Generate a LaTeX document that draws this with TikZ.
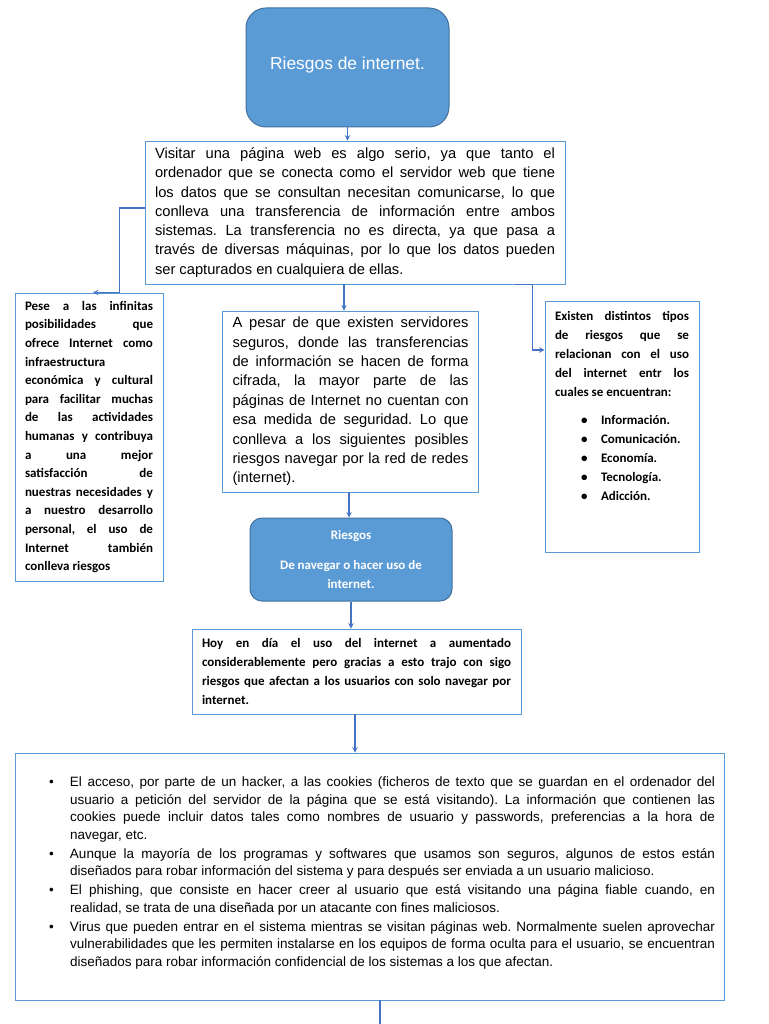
\documentclass[tikz,border=0pt]{standalone}
\usepackage{fontspec}
\setmainfont{Liberation Sans}
\newfontfamily\calibri{Carlito}
\usetikzlibrary{arrows}
\definecolor{riesgoblue}{RGB}{91,155,213}
\definecolor{riesgodark}{RGB}{65,113,156}
\definecolor{riesgoline}{RGB}{68,114,196}
\tikzstyle{arrow} = [line width=1.4pt,->,>=stealth,riesgoline]
\tikzstyle{conector} = [line width=1.4pt,riesgoline]
\tikzstyle{caja} = [draw=riesgoblue, line width=0.9pt, align=justify, inner xsep=10pt, inner ysep=0pt]
\tikzstyle{tema} = [draw=riesgodark, fill=riesgoblue, line width=1pt, text=white, align=center]
\newcommand{\vineta}{\par\noindent\hangindent=21pt\hangafter=1\makebox[21pt][l]{\textbullet}}
\newcommand{\lista}{\par\noindent\makebox[20pt][l]{\textbullet}}
\newcommand{\relleno}[1]{\par\vspace{#1}\hrule height0pt}
\frenchspacing
\hyphenpenalty=10000
\exhyphenpenalty=10000
\tolerance=9999
\hbadness=10000
\begin{document}
\begin{tikzpicture}[x=1pt, y=-1pt]
\useasboundingbox (0,0) rectangle (768,1024);

% Titulo
\node[tema, rounded corners=20pt, minimum width=203pt, minimum height=119pt, text depth=9.5pt, font=\fontsize{17.4}{20}\selectfont] (titulo) at (347.5,67.5) {Riesgos de internet.};

% Cajas de texto
\node[caja, text width=400pt, minimum height=143pt, font=\fontsize{14.7}{19.3}\selectfont] (visitar) at (355,212.5) {Visitar una página web es algo serio, ya que tanto el\linebreak ordenador que se conecta como el servidor web que tiene\linebreak los datos que se consultan necesitan comunicarse, lo que\linebreak conlleva una transferencia de información entre ambos\linebreak sistemas. La transferencia no es directa, ya que pasa a\linebreak través de diversas máquinas, por lo que los datos pueden\linebreak ser capturados en cualquiera de ellas.};

\node[caja, text width=128pt, minimum height=288pt, font=\calibri\bfseries\fontsize{13}{18.6}\selectfont] (pese) at (89,437) {Pese a las infinitas\linebreak posibilidades que\linebreak ofrece Internet como\linebreak infraestructura\linebreak económica y cultural\linebreak para facilitar muchas\linebreak de las actividades\linebreak humanas y contribuya\linebreak a una mejor\linebreak satisfacción de\linebreak nuestras necesidades y\linebreak a nuestro desarrollo\linebreak personal, el uso de\linebreak Internet también\linebreak conlleva riesgos};

\node[caja, text width=236pt, minimum height=181pt, font=\fontsize{14.7}{19.4}\selectfont] (pesar) at (350.5,401.5) {A pesar de que existen servidores\linebreak seguros, donde las transferencias\linebreak de información se hacen de forma\linebreak cifrada, la mayor parte de las\linebreak páginas de Internet no cuentan con\linebreak esa medida de seguridad. Lo que\linebreak conlleva a los siguientes posibles\linebreak riesgos navegar por la red de redes\linebreak (internet).};

\node[caja, text width=134pt, minimum height=251pt, font=\calibri\bfseries\fontsize{13}{19}\selectfont] (tipos) at (622,426.5) {Existen distintos tipos\linebreak de riesgos que se\linebreak relacionan con el uso\linebreak del internet entr los\linebreak cuales se encuentran:\par\vspace{9pt}\leftskip=26pt
\lista Información.\lista Comunicación.\lista Economía.\lista Tecnología.\lista Adicción.\relleno{42pt}};

\node[tema, rounded corners=12pt, minimum width=202pt, minimum height=83pt, font=\calibri\bfseries\fontsize{13}{19}\selectfont] (riesgos) at (351,559.5) {Riesgos\\[11pt]De navegar o hacer uso de\\internet.};

\node[caja, text width=309pt, minimum height=85pt, font=\calibri\bfseries\fontsize{13}{19}\selectfont] (hoy) at (356.5,671.5) {Hoy en día el uso del internet a aumentado\linebreak considerablemente pero gracias a esto trajo con sigo\linebreak riesgos que afectan a los usuarios con solo navegar por\linebreak internet.};

\node[caja, inner xsep=9pt, text width=691pt, minimum height=247pt, font=\fontsize{13.5}{17.5}\selectfont] (lista) at (369.5,876.5) {\leftskip=25pt\parskip=1.5pt
\vineta El acceso, por parte de un hacker, a las cookies (ficheros de texto que se guardan en el ordenador del\linebreak usuario a petición del servidor de la página que se está visitando). La información que contienen las\linebreak cookies puede incluir datos tales como nombres de usuario y passwords, preferencias a la hora de\linebreak navegar, etc.
\vineta Aunque la mayoría de los programas y softwares que usamos son seguros, algunos de estos están\linebreak diseñados para robar información del sistema y para después ser enviada a un usuario malicioso.
\vineta El phishing, que consiste en hacer creer al usuario que está visitando una página fiable cuando, en\linebreak realidad, se trata de una diseñada por un atacante con fines maliciosos.
\vineta Virus que pueden entrar en el sistema mientras se visitan páginas web. Normalmente suelen aprovechar\linebreak vulnerabilidades que les permiten instalarse en los equipos de forma oculta para el usuario, se encuentran\linebreak diseñados para robar información confidencial de los sistemas a los que afectan.\relleno{16pt}};

\coordinate (fin) at (380,1024);

% Conectores
\draw[arrow] (titulo.south) -- (titulo.south |- visitar.north);
\draw[arrow] ([yshift=4.5pt]visitar.west) -- ++(-25,0) |- ([xshift=4pt]pese.north);
\draw[arrow] ([xshift=-11pt]visitar.south) -- ([xshift=-11pt]visitar.south |- pesar.north);
\draw[arrow] ([xshift=-50pt]visitar.south east) -- ++(17,0) |- ([yshift=76.5pt]tipos.west);
\draw[arrow] ([xshift=-1.5pt]pesar.south) -- ([xshift=-1.5pt]pesar.south |- riesgos.north);
\draw[arrow] (riesgos.south) -- (riesgos.south |- hoy.north);
\draw[arrow] ([xshift=-1.5pt]hoy.south) -- ([xshift=-1.5pt]hoy.south |- lista.north);
\draw[conector] (lista.south -| fin) -- (fin);
\end{tikzpicture}
\end{document}
